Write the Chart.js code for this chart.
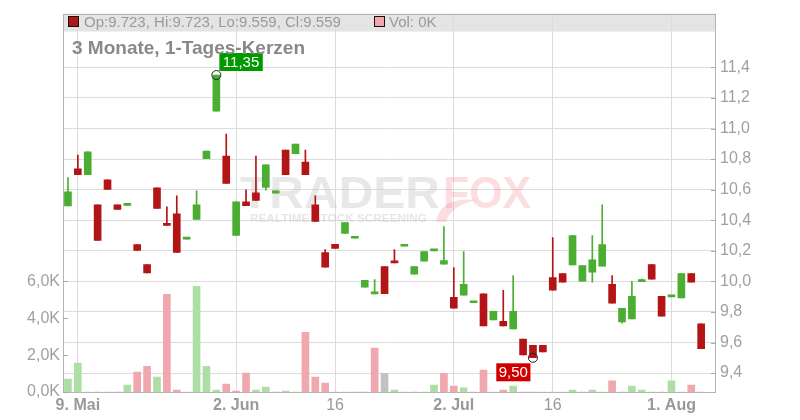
<!DOCTYPE html>
<html>
<head>
<meta charset="utf-8">
<script src="https://cdn.jsdelivr.net/npm/chart.js@4.4.1/dist/chart.umd.min.js"></script>
<style>
  html, body { margin: 0; padding: 0; background: #fff; }
  #wrap { width: 800px; height: 420px; }
</style>
</head>
<body>
<div id="wrap"><canvas id="chart" width="800" height="420"></canvas></div>
<script>
// trading days 8 May - 6 Aug
const days = [
  '08.05','09.05','12.05','13.05','14.05','15.05','16.05','19.05','20.05','21.05','22.05','23.05','26.05','27.05','28.05','29.05','30.05',
  '02.06','03.06','04.06','05.06','06.06','09.06','10.06','11.06','12.06','13.06','16.06','17.06','18.06','19.06','20.06','23.06','24.06','25.06','26.06','27.06','30.06',
  '01.07','02.07','03.07','04.07','07.07','08.07','09.07','10.07','11.07','14.07','15.07','16.07','17.07','18.07','21.07','22.07','23.07','24.07','25.07','28.07','29.07','30.07','31.07',
  '01.08','04.08','05.08','06.08'
];
const opens = [
  10.494, 10.737, 10.698, 10.501, 10.664, 10.501, 10.497, 10.240, 10.110, 10.612, 10.377, 10.442, 10.276, 10.405, 10.803, 11.113, 10.820,
  10.301, 10.520, 10.579, 10.614, 10.577, 10.859, 10.835, 10.781, 10.501, 10.188, 10.242, 10.314, 10.282, 9.962, 9.918, 10.097, 10.130, 10.230, 10.047, 10.132,
  10.199, 10.112, 9.895, 9.910, 9.860, 9.919, 9.747, 9.739, 9.689, 9.622, 9.582, 9.582, 10.025, 10.051, 10.108, 10.001, 10.060, 10.099, 9.980, 9.734, 9.754, 9.998, 10.110, 9.902,
  9.899, 9.891, 10.051, 9.723
];
const highs = [
  10.679, 10.827, 10.848, 10.501, 10.664, 10.501, 10.500, 10.240, 10.110, 10.612, 10.488, 10.560, 10.278, 10.592, 10.853, 11.350, 10.964,
  10.520, 10.599, 10.820, 10.762, 10.592, 10.859, 10.898, 10.859, 10.560, 10.208, 10.242, 10.384, 10.285, 10.006, 10.012, 10.097, 10.208, 10.232, 10.097, 10.195,
  10.200, 10.358, 10.090, 10.195, 9.861, 9.919, 9.804, 9.941, 10.038, 9.622, 9.582, 9.582, 10.286, 10.051, 10.299, 10.104, 10.299, 10.501, 10.038, 9.823, 10.001, 10.017, 10.110, 9.902,
  9.900, 10.051, 10.051, 9.723
];
const lows = [
  10.494, 10.698, 10.698, 10.268, 10.601, 10.470, 10.497, 10.203, 10.056, 10.477, 10.366, 10.190, 10.276, 10.405, 10.803, 11.113, 10.640,
  10.301, 10.496, 10.529, 10.597, 10.577, 10.698, 10.835, 10.698, 10.392, 10.093, 10.216, 10.314, 10.282, 9.962, 9.918, 9.919, 10.121, 10.230, 10.047, 10.132,
  10.199, 10.112, 9.825, 9.910, 9.860, 9.708, 9.747, 9.708, 9.689, 9.519, 9.500, 9.539, 9.943, 9.995, 10.108, 10.001, 9.995, 10.099, 9.858, 9.726, 9.754, 9.998, 10.014, 9.773,
  9.899, 9.891, 9.995, 9.559
];
const closes = [
  10.586, 10.698, 10.848, 10.268, 10.601, 10.470, 10.500, 10.203, 10.056, 10.477, 10.366, 10.190, 10.278, 10.501, 10.853, 11.350, 10.640,
  10.520, 10.496, 10.529, 10.762, 10.592, 10.698, 10.898, 10.698, 10.392, 10.093, 10.216, 10.384, 10.285, 10.006, 9.919, 9.919, 10.121, 10.232, 10.097, 10.195,
  10.200, 10.136, 9.825, 9.980, 9.861, 9.708, 9.804, 9.708, 9.804, 9.519, 9.500, 9.539, 9.943, 9.995, 10.299, 10.104, 10.141, 10.240, 9.858, 9.823, 9.902, 9.999, 10.014, 9.773,
  9.900, 10.051, 9.995, 9.559
];
const volumes = [
  700, 1570, 0, 0, 0, 0, 380, 1080, 1400, 810, 5300, 110, 0, 5730, 1400, 110, 430,
  50, 1030, 110, 270, 0, 50, 0, 3240, 810, 490, 0, 0, 0, 0, 2380, 1010, 110, 0, 0, 0,
  380, 1010, 320, 220, 0, 1190, 0, 110, 320, 0, 0, 0, 0, 0, 110, 0, 110, 0, 600, 0, 320, 110, 0, 0,
  600, 0, 380, 0
];
const tickNames = { '09.05': '9. Mai', '02.06': '2. Jun', '16.06': '16', '02.07': '2. Jul', '16.07': '16', '01.08': '1. Aug' };
const monthStarts = ['09.05', '02.06', '02.07', '01.08'];
const priceTicks = [9.4, 9.6, 9.8, 10.0, 10.2, 10.4, 10.6, 10.8, 11.0, 11.2, 11.4];
const volTicks = [0, 2000, 4000, 6000];
const priceMin = 9.2762, priceMax = 11.7518;
const volMax = 20540;
const maxIdx = 15, minIdx = 47;

const xLabels = [...days, ''];
const UP = '#4aae32', DOWN = '#b31516';
const VOL_UP = '#acdea6', VOL_DOWN = '#f0a7ae', VOL_FLAT = '#c2c2c2';
const FONT = '"Liberation Sans", Arial, sans-serif';

function candleColor(i) { return closes[i] >= opens[i] ? UP : DOWN; }
function volColor(i) {
  const prev = i > 0 ? closes[i - 1] : opens[i];
  if (closes[i] > prev) return VOL_UP;
  if (closes[i] < prev) return VOL_DOWN;
  return VOL_FLAT;
}
function de(v, d) { return v.toFixed(d).replace('.', ','); }

const deco = {
  id: 'deco',
  beforeDraw(chart) {
    const { ctx, chartArea: a } = chart;
    ctx.save();
    ctx.fillStyle = '#e4e4e4';
    ctx.fillRect(a.left, a.top, a.right - a.left, 18);
    ctx.restore();
  },
  beforeDatasetsDraw(chart) {
    const { ctx } = chart;
    ctx.save();
    ctx.textBaseline = 'alphabetic';
    ctx.font = 'bold 44px ' + FONT;
    let w = ctx.measureText('TRADER').width;
    ctx.fillStyle = 'rgba(200,200,200,0.42)';
    ctx.save();
    ctx.translate(240, 208);
    ctx.scale(200 / w, 1);
    ctx.fillText('TRADER', 0, 0);
    ctx.restore();
    w = ctx.measureText('FOX').width;
    ctx.fillStyle = 'rgba(245,120,130,0.25)';
    ctx.save();
    ctx.translate(443, 208);
    ctx.scale(88 / w, 1);
    ctx.fillText('FOX', 0, 0);
    ctx.restore();
    // fox tail
    ctx.beginPath();
    ctx.moveTo(436, 222);
    ctx.quadraticCurveTo(440, 196, 478, 200);
    ctx.quadraticCurveTo(452, 204, 446, 222);
    ctx.closePath();
    ctx.fill();
    ctx.font = 'bold 10px ' + FONT;
    ctx.fillStyle = 'rgba(200,200,200,0.45)';
    const sub = 'REALTIME STOCK SCREENING';
    w = ctx.measureText(sub).width;
    ctx.save();
    ctx.translate(250, 222);
    ctx.scale(177 / w, 1.1);
    ctx.fillText(sub, 0, 0);
    ctx.restore();
    ctx.restore();
  },
  afterDatasetsDraw(chart) {
    const { ctx, scales } = chart;
    const x = scales.x, y = scales.yPrice;
    ctx.save();
    ctx.font = '15px ' + FONT;
    ctx.textBaseline = 'middle';
    ctx.textAlign = 'center';
    // max marker
    let cx = x.getPixelForValue(maxIdx), cy = y.getPixelForValue(highs[maxIdx]);
    let t = de(highs[maxIdx], 2), tw = ctx.measureText(t).width + 7;
    ctx.fillStyle = '#009a00';
    ctx.fillRect(cx + 3, cy - 22, tw, 18);
    ctx.fillStyle = '#fff';
    ctx.fillText(t, cx + 3 + tw / 2, cy - 12.5);
    ctx.strokeStyle = '#222'; ctx.lineWidth = 1;
    ctx.beginPath(); ctx.arc(cx, cy, 4.5, 0, Math.PI * 2); ctx.stroke();
    // min marker
    cx = x.getPixelForValue(minIdx); cy = y.getPixelForValue(lows[minIdx]);
    t = de(lows[minIdx], 2); tw = ctx.measureText(t).width + 5;
    ctx.fillStyle = '#d00000';
    ctx.fillRect(cx - 2.5 - tw, cy + 5.5, tw, 18);
    ctx.fillStyle = '#fff';
    ctx.fillText(t, cx - 2.5 - tw / 2, cy + 15);
    ctx.beginPath(); ctx.arc(cx, cy, 4.5, 0, Math.PI * 2); ctx.stroke();
    ctx.restore();
  },
  afterDraw(chart) {
    const { ctx, chartArea: a, scales } = chart;
    ctx.save();
    ctx.strokeStyle = '#b4b4b4';
    ctx.lineWidth = 1;
    ctx.strokeRect(Math.round(a.left) + 0.5, Math.round(a.top) + 0.5, Math.round(a.right - a.left) - 1, Math.round(a.bottom - a.top));
    ctx.strokeStyle = '#a8a8a8';
    ctx.beginPath();
    priceTicks.forEach(v => {
      const yy = Math.round(scales.yPrice.getPixelForValue(v)) + 0.5;
      ctx.moveTo(a.right - 5, yy); ctx.lineTo(a.right, yy);
    });
    volTicks.forEach(v => {
      const yy = Math.round(scales.yVol.getPixelForValue(v)) + 0.5;
      ctx.moveTo(a.left, yy); ctx.lineTo(a.left + 5, yy);
    });
    ctx.stroke();
    // header
    const n = days.length - 1;
    ctx.fillStyle = candleColor(n);
    ctx.strokeStyle = '#111';
    ctx.fillRect(68.5, 16.5, 10, 10); ctx.strokeRect(68.5, 16.5, 10, 10);
    ctx.fillStyle = volColor(n) === VOL_UP ? VOL_UP : VOL_DOWN;
    ctx.fillRect(374.5, 16.5, 10, 10); ctx.strokeRect(374.5, 16.5, 10, 10);
    ctx.font = '15px ' + FONT;
    ctx.fillStyle = '#9a9a9a';
    ctx.textBaseline = 'alphabetic';
    ctx.fillText('Op:' + opens[n].toFixed(3) + ', Hi:' + highs[n].toFixed(3) + ', Lo:' + lows[n].toFixed(3) + ', Cl:' + closes[n].toFixed(3), 84, 27);
    ctx.fillText('Vol: ' + Math.round(volumes[n] / 1000) + 'K', 389, 27);
    ctx.font = 'bold 19px ' + FONT;
    ctx.fillStyle = '#898989';
    ctx.fillText('3 Monate, 1-Tages-Kerzen', 72, 54);
    ctx.restore();
  }
};

Chart.defaults.font.family = FONT;

new Chart(document.getElementById('chart'), {
  type: 'bar',
  data: {
    labels: xLabels,
    datasets: [
      {
        label: 'Wick',
        data: days.map((d, i) => [lows[i], highs[i]]),
        yAxisID: 'yPrice',
        grouped: false,
        barThickness: 1,
        minBarLength: 1,
        backgroundColor: days.map((d, i) => candleColor(i)),
        borderWidth: 0,
        order: 2
      },
      {
        label: 'Kerze',
        data: days.map((d, i) => [opens[i], closes[i]]),
        yAxisID: 'yPrice',
        grouped: false,
        barThickness: 7,
        minBarLength: 2,
        backgroundColor: days.map((d, i) => candleColor(i)),
        borderWidth: 0,
        order: 1
      },
      {
        label: 'Vol',
        data: volumes,
        yAxisID: 'yVol',
        grouped: false,
        barThickness: 7,
        backgroundColor: days.map((d, i) => volColor(i)),
        borderWidth: 0,
        order: 3
      }
    ]
  },
  options: {
    responsive: false,
    devicePixelRatio: 1,
    animation: false,
    layout: { padding: { top: 12, left: 0, right: 0, bottom: 0 } },
    plugins: { legend: { display: false }, tooltip: { enabled: false } },
    scales: {
      x: {
        type: 'category',
        offset: true,
        afterFit: s => { s.height = 28; },
        grid: {
          offset: false,
          drawTicks: false,
          color: c => tickNames[xLabels[c.index]] ? '#dcdcdc' : 'rgba(0,0,0,0)'
        },
        border: { display: false },
        ticks: {
          autoSkip: false,
          maxRotation: 0,
          padding: 4,
          color: '#999',
          font: c => ({ size: 16, weight: monthStarts.includes(xLabels[c.index]) ? 'bold' : 'normal' }),
          callback: (v, i) => tickNames[xLabels[i]] || ''
        }
      },
      yPrice: {
        type: 'linear',
        position: 'right',
        min: priceMin,
        max: priceMax,
        afterFit: s => { s.width = 84; },
        afterBuildTicks: s => { s.ticks = priceTicks.map(v => ({ value: v })); },
        grid: { color: '#dcdcdc', drawTicks: false },
        border: { display: false },
        ticks: { padding: 4, color: '#a0a0a0', font: { size: 16 }, callback: v => de(v, 1) }
      },
      yVol: {
        type: 'linear',
        position: 'left',
        min: 0,
        max: volMax,
        afterFit: s => { s.width = 63; },
        afterBuildTicks: s => { s.ticks = volTicks.map(v => ({ value: v })); },
        grid: { display: false, drawTicks: false },
        border: { display: false },
        ticks: { padding: 3, color: '#a0a0a0', font: { size: 16 }, callback: v => de(v / 1000, 1) + 'K' }
      }
    }
  },
  plugins: [deco]
});
</script>
</body>
</html>
